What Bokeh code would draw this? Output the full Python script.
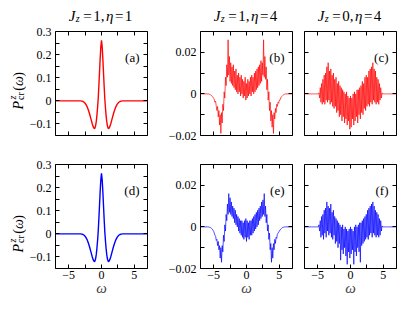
import numpy as np
from bokeh.plotting import figure
from bokeh.models import Range1d, FixedTicker, CustomJSTickFormatter, LinearAxis, Label
from bokeh.layouts import column, row
from bokeh.embed import file_html
from bokeh.resources import INLINE

# ---------------- data ----------------
omega_smooth = [-7.0, -3.2, -3.0, -2.8, -2.6, -2.4, -2.2, -2.0, -1.8, -1.6, -1.4, -1.25, -1.1, -1.0,
                -0.9, -0.8, -0.7, -0.6, -0.5, -0.4, -0.3, -0.2, -0.1, 0.0,
                0.1, 0.2, 0.3, 0.4, 0.5, 0.6, 0.7, 0.8, 0.9, 1.0, 1.1, 1.25, 1.4, 1.6, 1.8,
                2.0, 2.2, 2.4, 2.6, 2.8, 3.0, 3.2, 7.0]
P_smooth = [0.0, 0.0, -0.001, -0.003, -0.007, -0.014, -0.025, -0.040, -0.058, -0.079, -0.100, -0.113, -0.120, -0.118,
            -0.108, -0.090, -0.064, -0.030, 0.010, 0.065, 0.125, 0.185, 0.235, 0.262,
            0.235, 0.185, 0.125, 0.065, 0.010, -0.030, -0.064, -0.090, -0.108, -0.118, -0.120, -0.113, -0.100, -0.079, -0.058,
            -0.040, -0.025, -0.014, -0.007, -0.003, -0.001, 0.0, 0.0]

omega_noisy = [-7.0,
    -6.0, -5.9, -5.8, -5.7, -5.6, -5.5, -5.4, -5.3, -5.2, -5.1,
    -5.0, -4.9, -4.8, -4.7, -4.6, -4.5, -4.4, -4.3, -4.2, -4.1,
    -4.0, -3.9, -3.8, -3.7, -3.6, -3.5, -3.4, -3.3, -3.2, -3.1,
    -3.0, -2.9, -2.8, -2.7, -2.6, -2.5, -2.4, -2.3, -2.2, -2.1,
    -2.0, -1.9, -1.8, -1.7, -1.6, -1.5, -1.4, -1.3, -1.2, -1.1,
    -1.0, -0.9, -0.8, -0.7, -0.6, -0.5, -0.4, -0.3, -0.2, -0.1,
    0.0, 0.1, 0.2, 0.3, 0.4, 0.5, 0.6, 0.7, 0.8, 0.9,
    1.0, 1.1, 1.2, 1.3, 1.4, 1.5, 1.6, 1.7, 1.8, 1.9,
    2.0, 2.1, 2.2, 2.3, 2.4, 2.5, 2.6, 2.7, 2.8, 2.9,
    3.0, 3.1, 3.2, 3.3, 3.4, 3.5, 3.6, 3.7, 3.8, 3.9,
    4.0, 4.1, 4.2, 4.3, 4.4, 4.5, 4.6, 4.7, 4.8, 4.9,
    5.0, 5.1, 5.2, 5.3, 5.4, 5.5, 5.6, 5.7, 5.8, 5.9,
    6.0, 7.0]

# values in units of 1e-3
P_b_milli = [0,
    0, 0, 0, -0.1, -0.2,
    -0.4, -0.6, -0.9, -1.2, -1.6, -2.1, -2.8, -4.0, -3.5, -6,
    -8, -6, -11, -8, -15, -10, -19, -9, -14, -5,
    -8, 1, -2, 8, 4, 14, 8, 26, 9, 18,
    6, 15, 5, 13, 4, 14, 3, 11, 2, 12,
    1, 9, 0, 10, 1, 8, -1, 9, 0, 7,
    -2, 6, -1, 8, -3, 5, -2, 7, -1, 6,
    0, 8, -1, 9, 1, 8, 0, 10, 1, 11,
    2, 12, 3, 13, 4, 14, 5, 16, 6, 15,
    9, 26, 8, 18, 7, 13, 2, 7, -3, 1,
    -8, -4, -13, -8, -16, -10, -19, -9, -12, -7,
    -9, -5, -6, -4, -4.5, -3, -3, -2, -1.5, -1.2,
    -0.8, -0.5, -0.3, -0.15, -0.05, 0,
    0]
P_c_milli = [0,
    0, 0, 0, 0, 0,
    0, 0, 0, 0, 0, 0, 0, 0.5, -2, 3,
    -4, 5, -5, 7, -4, 9, -5, 10, -3, 13,
    -4, 15, -3, 11, -5, 12, -4, 9, -6, 10,
    -7, 7, -6, 8, -9, 5, -8, 6, -11, 4,
    -10, 3, -13, 2, -11, 1, -14, 0, -12, 1,
    -15, -1, -13, -2, -17, -1, -16, -2, -12, 0,
    -15, 1, -13, 0, -11, 2, -14, 2, -10, 3,
    -12, 4, -9, 6, -10, 5, -7, 8, -8, 9,
    -6, 8, -5, 11, -6, 12, -4, 13, -5, 15,
    -3, 12, -4, 11, -5, 8, -4, 7, -5, 5,
    -3, 3, -2, 0.5, 0, 0, 0, 0, 0, 0,
    0, 0, 0, 0, 0, 0,
    0]
P_e_milli = [0,
    0, 0, 0, -0.1, -0.2,
    -0.3, -0.5, -0.8, -1.1, -1.6, -2.2, -3.0, -4.0, -4.5, -6.5,
    -6, -9, -7, -11, -9, -15, -10, -17, -9, -12,
    -4, -7, 1, -2, 6, 3, 11, 6, 16, 7,
    14, 6, 12, 5, 10, 4, 9, 2, 8, 1,
    6, 0, 5, -2, 4, -3, 3, -4, 3, -5,
    2, -6, 3, -5, 4, -7, 3, -5, 2, -6,
    3, -4, 3, -4, 4, -3, 5, -2, 6, -1,
    7, 0, 8, 1, 9, 3, 10, 4, 12, 5,
    13, 6, 16, 5, 10, 2, 6, -2, 1, -6,
    -3, -11, -8, -17, -10, -15, -8, -11, -6, -8,
    -5, -5.5, -3.5, -3, -2.5, -2, -1.5, -1.1, -0.8, -0.5,
    -0.3, -0.2, -0.1, 0, 0, 0,
    0]
P_f_milli = [0,
    0, 0, 0, 0, 0,
    0, 0, 0, 0, 0, 0, 0, 1, -2, 3,
    -5, 5, -4, 6, -6, 8, -3, 9, -5, 12,
    -2, 10, -4, 9, -3, 11, -5, 7, -6, 8,
    -4, 5, -8, 4, -7, 3, -10, 2, -8, 1,
    -16, 0, -11, 1, -13, -1, -10, 0, -14, -1,
    -18, -2, -12, -1, -15, 0, -13, -1, -11, -2,
    -18, 0, -12, 1, -14, 0, -10, 1, -12, 2,
    -17, 2, -9, 3, -8, 4, -7, 5, -6, 6,
    -5, 8, -6, 9, -4, 10, -3, 11, -5, 12,
    -3, 10, -4, 8, -5, 7, -4, 6, -5, 4,
    -4, 3, -2, 0.5, 0, 0, 0, 0, 0, 0,
    0, 0, 0, 0, 0, 0,
    0]

title_Jz = [1, 1, 0]
title_eta = [1, 4, 4]
panel_tags = ["(a)", "(b)", "(c)", "(d)", "(e)", "(f)"]
x_ticks = [-5, -2.5, 0, 2.5, 5]
y_ticks_wide = [-0.15, -0.1, -0.05, 0, 0.05, 0.1, 0.15, 0.2, 0.25, 0.3]
y_ticks_narrow = [-0.02, -0.01, 0, 0.01, 0.02, 0.03]

# ---------------- style ----------------
FONT = "Liberation Serif"
FW, FH = 92, 104
RED, BLUE = "#ff0000", "#0000ff"
YLW = 26                                   # width of the y-label strip
col_borders = [(28, 3), (50, 4), (8, 4)]   # (left, right) borders of panel figures
row_borders = [(7, 12), (17, 34)]          # (top, bottom) borders of panel figures
TITLE_H = 24

W = {'J': 0.444, 'z': 0.389, 'η': 0.5, '=': 0.564, ',': 0.25, 'P': 0.611, 'c': 0.444,
     'r': 0.333, '(': 0.333, ')': 0.333, 'ω': 0.667}


def tw(s, size):
    return sum(W.get(ch, 0.5) for ch in s) * size


FMT = """
const k = tick / step;
if (Math.abs(k - Math.round(k)) > 1e-6) { return ""; }
if (Math.abs(tick) < 1e-9) { return "0"; }
const s = Math.abs(tick).toFixed(dec);
return (tick < 0 ? "\u2212" : "") + s;
"""


def style_axis(ax, ticks, step, dec, show, standoff=4):
    ax.ticker = FixedTicker(ticks=ticks)
    if show:
        ax.formatter = CustomJSTickFormatter(args=dict(step=step, dec=dec), code=FMT)
        ax.major_label_text_font_size = "12px"
        ax.major_label_standoff = standoff
    else:
        ax.formatter = CustomJSTickFormatter(code='return "";')
        ax.major_label_text_font_size = "0px"
        ax.major_label_standoff = 0
    ax.major_label_text_font = FONT
    ax.major_label_text_color = "black"
    ax.axis_line_color = None
    ax.major_tick_in = 4
    ax.major_tick_out = 0
    ax.major_tick_line_color = "black"
    ax.major_tick_line_width = 1
    ax.minor_tick_line_color = None


def add_text(p, x, y, text, size, style="normal", align="left", angle=0.0):
    p.add_layout(Label(x=x, y=y, x_units="screen", y_units="screen", text=text,
                       text_font=FONT, text_font_size=f"{size}px", text_font_style=style,
                       text_align=align, text_baseline="alphabetic", angle=angle,
                       text_color="black"))


def helper(fw, fh, lb=0, rb=0):
    h = figure(frame_width=fw, frame_height=fh, x_range=Range1d(0, 1), y_range=Range1d(0, 1),
               output_backend="svg", toolbar_location=None, tools="",
               x_axis_type=None, y_axis_type=None,
               min_border_left=lb, min_border_right=rb, min_border_top=0, min_border_bottom=0)
    h.outline_line_color = None
    h.grid.visible = False
    return h


def make_panel(r, c, wide, show_xlab, show_ylab):
    lb, rb = col_borders[c]
    tb, bb = row_borders[r]
    yr = (-0.15, 0.3) if wide else (-0.02, 0.03)
    p = figure(frame_width=FW, frame_height=FH, x_range=Range1d(-7, 7), y_range=Range1d(*yr),
               output_backend="svg", toolbar_location=None, tools="",
               min_border_left=lb, min_border_right=rb, min_border_top=tb, min_border_bottom=bb)
    p.xgrid.visible = False
    p.ygrid.visible = False
    p.outline_line_color = "black"
    p.outline_line_width = 1
    yt = y_ticks_wide if wide else y_ticks_narrow
    ystep, ydec = (0.1, 1) if wide else (0.02, 2)
    style_axis(p.xaxis[0], x_ticks, 5, 0, show_xlab, standoff=2)
    style_axis(p.yaxis[0], yt, ystep, ydec, show_ylab)
    if show_xlab:
        ax = p.xaxis[0]
        ax.axis_label = "ω"
        ax.axis_label_text_font = FONT
        ax.axis_label_text_font_style = "italic"
        ax.axis_label_text_font_size = "15px"
        ax.axis_label_standoff = -2
    top = LinearAxis()
    style_axis(top, x_ticks, 5, 0, False)
    p.add_layout(top, "above")
    right = LinearAxis()
    style_axis(right, yt, ystep, ydec, False)
    p.add_layout(right, "right")
    return p


def title_fig(c, Jz, eta):
    lb, rb = col_borders[c]
    if c == 0:
        lb += YLW
    h = helper(FW, TITLE_H, lb, rb)
    pieces = [("J", "italic", 15, 0, 0), ("z", "italic", 10, 0.5, -2.5),
              ("=", "normal", 15, 3.5, 0), (f"{Jz},", "normal", 15, 1.5, 0),
              ("η", "italic", 15, 1.5, 0), ("=", "normal", 15, 1.5, 0),
              (f"{eta}", "normal", 15, 1.5, 0)]
    total = sum(tw(t, s) + g for t, st, s, g, d in pieces)
    x = FW / 2 - total / 2
    base = 9
    for t, st, s, g, d in pieces:
        x += g
        add_text(h, x, base + d, t, s, st)
        x += tw(t, s)
    return h


def ylabel_fig(r):
    tb, bb = row_borders[r]
    hgt = tb + FH + bb
    h = helper(YLW, hgt)
    bx = 18
    y = bb + FH / 2 - 19
    add_text(h, bx, y, "P", 14, "italic", angle=np.pi / 2)
    y += tw("P", 14) + 1
    add_text(h, bx - 6, y + 0.5, "z", 10, "italic", angle=np.pi / 2)
    add_text(h, bx + 2, y, "cr", 10, "normal", angle=np.pi / 2)
    y += tw("cr", 10) + 1.5
    add_text(h, bx, y, "(", 14, "normal", angle=np.pi / 2)
    y += tw("(", 14)
    add_text(h, bx, y, "ω", 14, "italic", angle=np.pi / 2)
    y += tw("ω", 14)
    add_text(h, bx, y, ")", 14, "normal", angle=np.pi / 2)
    return h


series = [(omega_smooth, np.array(P_smooth), RED, 1.4),
          (omega_noisy, np.array(P_b_milli) * 1e-3, RED, 0.7),
          (omega_noisy, np.array(P_c_milli) * 1e-3, RED, 0.7),
          (omega_smooth, np.array(P_smooth), BLUE, 1.4),
          (omega_noisy, np.array(P_e_milli) * 1e-3, BLUE, 0.7),
          (omega_noisy, np.array(P_f_milli) * 1e-3, BLUE, 0.7)]

panels = []
for i in range(6):
    r, c = divmod(i, 3)
    p = make_panel(r, c, wide=(c == 0), show_xlab=(r == 1), show_ylab=(c < 2))
    xs, ys, colr, lw = series[i]
    p.line(xs, ys, line_color=colr, line_width=lw)
    add_text(p, FW - 8, FH - 26, panel_tags[i], 13, "normal", align="right")
    panels.append(p)

titles = [title_fig(c, title_Jz[c], title_eta[c]) for c in range(3)]
layout = column(row(*titles),
                row(ylabel_fig(0), *panels[:3]),
                row(ylabel_fig(1), *panels[3:]))
open("out.html", "w").write(file_html(layout, INLINE))
